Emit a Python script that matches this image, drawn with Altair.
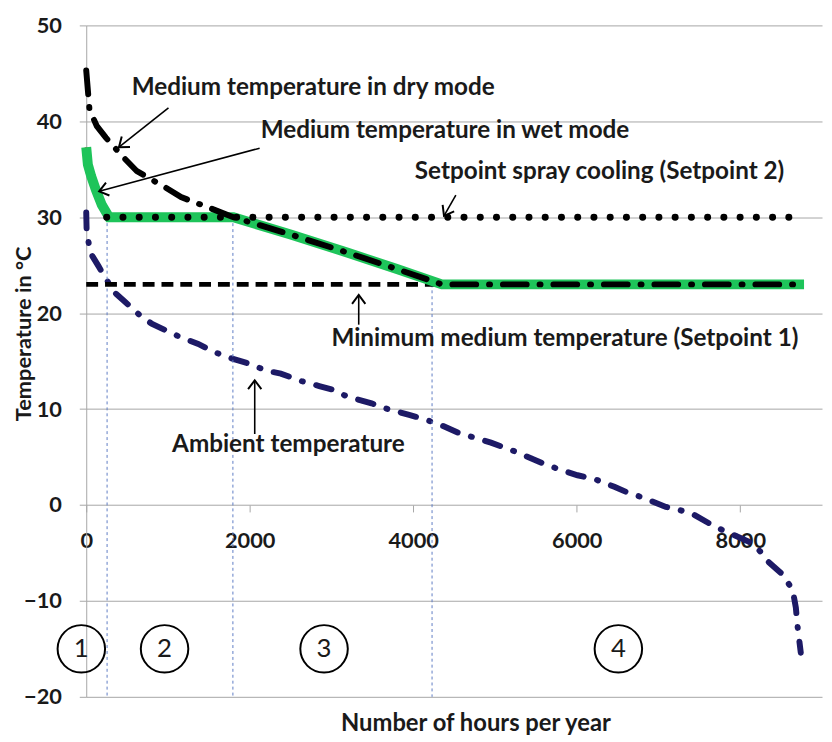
import math
import altair as alt
import pandas as pd

# ---------------- data ----------------
ambient_hours = [0, 5, 50, 150, 340, 460, 640, 800, 1150, 1370, 1550, 1770, 2010, 2200, 2380,
                 2640, 2850, 3030, 3190, 3490, 3650, 3950, 4150, 4320, 4560, 4760, 4950, 5210,
                 5350, 5570, 5820, 6010, 6220, 6460, 6620, 6800, 7090, 7250, 7430, 7700, 8100,
                 8240, 8340, 8500, 8640, 8680, 8700, 8740]
ambient_temp = [30.5, 28.6, 26.3, 24.9, 22.2, 21.3, 19.9, 18.9, 17.5, 16.8, 16.0, 15.3, 14.7, 14.0,
                13.7, 12.9, 12.4, 12.0, 11.3, 10.6, 10.1, 9.4, 8.9, 8.4, 7.5, 7.0, 6.5, 5.7, 5.2,
                4.4, 3.6, 3.1, 2.7, 1.9, 1.3, 0.8, -0.2, -0.5, -1.0, -2.3, -3.8, -4.8, -5.9, -7.1,
                -8.8, -10.7, -12.6, -15.4]

dry_hours = [0, 40, 130, 240, 460, 620, 970, 1160, 1530, 1800, 2500, 3200, 3800, 4350, 8780]
dry_temp = [45.3, 41.2, 39.5, 38.3, 36.2, 34.8, 33.1, 32.1, 30.9, 30.0, 28.2, 26.3, 24.6, 23.0, 23.0]

wet_hours = [0, 20, 60, 120, 190, 280, 1800, 2500, 3200, 3800, 4350, 8780]
wet_temp = [37.3, 35.5, 34.3, 32.8, 31.3, 30.0, 30.0, 28.2, 26.3, 24.6, 23.0, 23.0]

red_hours = [0, 8]
red_temp = [37.3, 34.6]

setpoint2_hours = [250, 8620]
setpoint2_temp = [30, 30]

setpoint1_hours = [0, 8760]
setpoint1_temp = [23, 23]

boundary_hours = [255, 1794, 4230]
boundary_top = [30, 30, 23]
boundary_bottom = [-20, -20, -20]

zone_labels = ["1", "2", "3", "4"]
zone_hours = [-60, 958, 2909, 6509]
zone_temp = [-15, -15, -15, -15]

annot_texts = ["Medium temperature in dry mode", "Medium temperature in wet mode",
               "Setpoint spray cooling (Setpoint 2)", "Minimum  medium temperature (Setpoint 1)",
               "Ambient temperature"]
annot_hours = [2776, 4388, 6279, 5855, 2473]
annot_temp = [43.5, 39.0, 34.7, 17.3, 6.2]

arrow_tail_hours = [1006, 2121, 4521, 3333, 2061]
arrow_tail_temp = [41.4, 37.2, 32.3, 18.8, 7.4]
arrow_tip_hours = [400, 158, 4376, 3333, 2061]
arrow_tip_temp = [37.3, 32.7, 30.15, 21.9, 13.0]

# ---------------- layout ----------------
W, H = 743, 678
X_DOM = [0, 9000]
Y_DOM = [-20, 50]
px_x = W / (X_DOM[1] - X_DOM[0])
px_y = H / (Y_DOM[1] - Y_DOM[0])
zero_offset = -(0 - Y_DOM[0]) * px_y

FONT = "Lato"
TXT = "#1a1a1a"
GRID = "#a6a6a6"

def df(h, t):
    return pd.DataFrame({"hours": h, "temp": t})

xs = alt.Scale(domain=X_DOM, nice=False, zero=False)
ys = alt.Scale(domain=Y_DOM, nice=False, zero=False)

x_axis = alt.Axis(values=[0, 2000, 4000, 6000, 8000], offset=zero_offset, domain=False, grid=False,
                  ticks=True, tickSize=7, tickColor=GRID, format="d", labelFlush=False,
                  labelFont=FONT, labelFontWeight="bold", labelFontSize=22, labelColor=TXT,
                  labelPadding=19, title="Number of hours per year", titleFont=FONT,
                  titleFontWeight="bold", titleFontSize=24, titleColor=TXT,
                  titleX=393, titleY=221, titleBaseline="middle", titleAlign="center")
y_axis = alt.Axis(values=list(range(-20, 51, 10)), grid=True, gridColor=GRID, gridWidth=1,
                  domain=True, domainColor=GRID, tickSize=7, tickColor=GRID, labelFlush=False,
                  labelFont=FONT, labelFontWeight="bold", labelFontSize=22, labelColor=TXT,
                  labelPadding=18, title="Temperature in °C", titleFont=FONT,
                  titleFontWeight="bold", titleFontSize=22, titleColor=TXT,
                  titleX=-63, titleY=311, titleAlign="center", titleBaseline="middle")

def enc_xy():
    return dict(
        x=alt.X("hours:Q", scale=xs, axis=x_axis),
        y=alt.Y("temp:Q", scale=ys, axis=y_axis),
    )

ambient = alt.Chart(df(ambient_hours, ambient_temp)).mark_line(
    color="#1d1a66", strokeWidth=6, strokeDash=[16, 14, 1, 14], strokeCap="round"
).encode(order="hours:Q", **enc_xy())

boundaries = alt.Chart(pd.DataFrame({"hours": boundary_hours, "temp": boundary_top,
                                     "bottom": boundary_bottom})).mark_rule(
    color="#5e7cc4", strokeWidth=1, strokeDash=[3, 3]
).encode(y2="bottom:Q", **enc_xy())

sp1 = alt.Chart(df(setpoint1_hours, setpoint1_temp)).mark_line(
    color="black", strokeWidth=5, strokeDash=[12, 7]
).encode(**enc_xy())

red = alt.Chart(df(red_hours, red_temp)).mark_line(
    color="#e0303a", strokeWidth=3
).encode(**enc_xy())

wet = alt.Chart(df(wet_hours, wet_temp)).mark_line(
    color="#1ec45a", strokeWidth=10, strokeCap="butt"
).encode(order="hours:Q", **enc_xy())

dry = alt.Chart(df(dry_hours, dry_temp)).mark_line(
    color="black", strokeWidth=6, strokeDash=[24, 13, 1, 13], strokeCap="round"
).encode(order="hours:Q", **enc_xy())

sp2 = alt.Chart(df(setpoint2_hours, setpoint2_temp)).mark_line(
    color="black", strokeWidth=7, strokeDash=[0.1, 16.3], strokeCap="round"
).encode(**enc_xy())

zones_c = alt.Chart(pd.DataFrame({"hours": zone_hours, "temp": zone_temp, "lab": zone_labels}))
zone_circles = zones_c.mark_point(shape="circle", size=2300, filled=False, stroke="black",
                                  strokeWidth=2, opacity=1).encode(**enc_xy())
zone_text = zones_c.mark_text(font=FONT, fontSize=26, color=TXT, baseline="middle",
                              align="center").encode(text="lab:N", **enc_xy())

annot = alt.Chart(pd.DataFrame({"hours": annot_hours, "temp": annot_temp, "t": annot_texts})).mark_text(
    font=FONT, fontWeight="bold", fontSize=24.5, color=TXT, align="center", baseline="middle"
).encode(text="t:N", **enc_xy())

angles = []
for a, b, c, d in zip(arrow_tail_hours, arrow_tail_temp, arrow_tip_hours, arrow_tip_temp):
    dx = (c - a) * px_x
    dy = -(d - b) * px_y
    angles.append(math.degrees(math.atan2(dy, dx)) % 360)

arrows_df = pd.DataFrame({"hours": arrow_tail_hours, "temp": arrow_tail_temp,
                          "hours2": arrow_tip_hours, "temp2": arrow_tip_temp})
arrow_shafts = alt.Chart(arrows_df).mark_rule(color="black", strokeWidth=1.6).encode(
    x2="hours2:Q", y2="temp2:Q", **enc_xy())
heads_df = pd.DataFrame({"hours": arrow_tip_hours, "temp": arrow_tip_temp, "ang": angles})
arrow_heads = alt.Chart(heads_df).mark_point(
    shape="M -1 -0.75 L 0 0 L -1 0.75", size=320, filled=False, stroke="black",
    strokeWidth=2, opacity=1
).encode(angle=alt.Angle("ang:Q", scale=None), **enc_xy())

chart = alt.layer(
    ambient, boundaries, sp1, red, wet, dry, sp2, zone_circles, zone_text, annot,
    arrow_shafts, arrow_heads
).properties(
    width=W, height=H,
    autosize=alt.AutoSizeParams(type="none"),
    padding={"left": 79, "top": 14, "right": 2, "bottom": 38},
    background="white",
).configure_view(stroke=None)

chart.save("out.html", embed_options={"renderer": "svg", "actions": False})
